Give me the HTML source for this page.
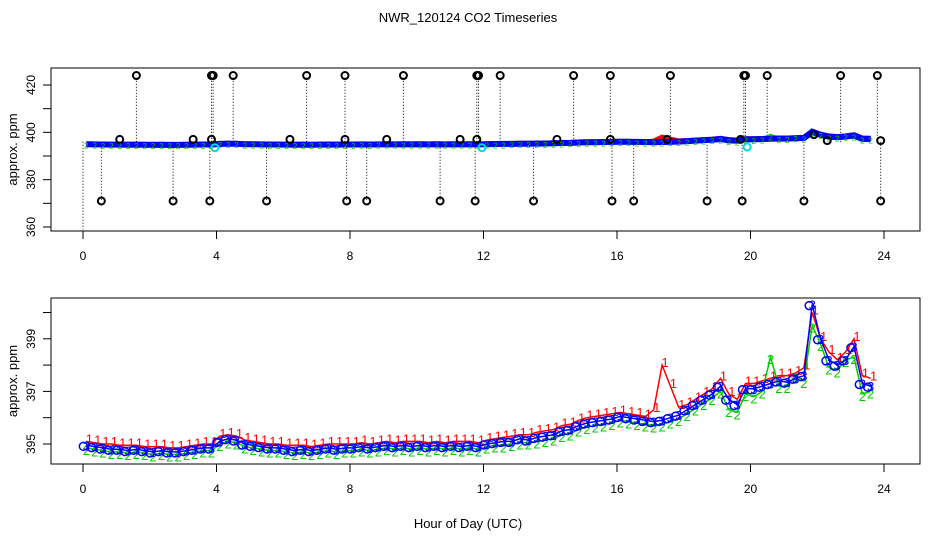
<!DOCTYPE html>
<html><head><meta charset="utf-8"><style>
body{margin:0;background:#fff}
svg{display:block;font-family:"Liberation Sans",sans-serif}
</style></head><body>
<svg id="chart" width="936" height="540" viewBox="0 0 936 540" xmlns="http://www.w3.org/2000/svg">
<rect width="936" height="540" fill="#fff"/>
<text x="468" y="22" font-size="13" text-anchor="middle">NWR_120124  CO2 Timeseries</text>
<text x="468" y="528" font-size="13" text-anchor="middle">Hour of Day (UTC)</text>
<g id="topPanel"></g>
<g id="botPanel"></g>
</svg>
<script>
const hours=[0.1,0.35,0.6,0.85,1.1,1.35,1.6,1.85,2.1,2.35,2.6,2.85,3.1,3.35,3.6,3.85,
4.1,4.35,4.6,4.85,5.1,5.35,5.6,5.85,6.1,6.35,6.6,6.85,7.1,7.35,7.6,7.85,
8.1,8.35,8.6,8.85,9.1,9.35,9.6,9.85,10.1,10.35,10.6,10.85,11.1,11.35,11.6,11.85,
12.1,12.35,12.6,12.85,13.1,13.35,13.6,13.85,14.1,14.35,14.6,14.85,15.1,15.35,15.6,15.85,
16.1,16.35,16.6,16.85,17.1,17.35,17.6,17.85,18.1,18.35,18.6,18.85,19.1,19.35,19.6,19.85,
20.1,20.35,20.6,20.85,21.1,21.35,21.6,21.85,22.1,22.35,22.6,22.85,23.1,23.35,23.6];
const series1=[395.1,395.05,395.0,395.0,394.95,394.95,394.95,394.9,394.9,394.9,394.85,394.85,394.9,394.95,395.0,395.0,
395.3,395.35,395.3,395.15,395.1,395.05,395.0,395.0,394.95,394.95,394.95,394.9,394.95,395.0,395.0,395.0,
395.0,395.05,395.0,395.05,395.1,395.05,395.1,395.1,395.1,395.05,395.1,395.05,395.1,395.1,395.1,395.05,
395.15,395.2,395.25,395.3,395.35,395.35,395.45,395.5,395.55,395.7,395.75,395.9,396.0,396.05,396.1,396.15,
396.2,396.15,396.1,396.05,396.3,398.0,397.2,396.4,396.5,396.7,396.9,397.1,397.5,396.9,396.7,397.3,
397.3,397.4,397.5,397.6,397.6,397.7,397.9,400.0,399.0,398.5,398.2,398.5,399.0,397.6,397.5];
const series2=[394.85,394.8,394.75,394.7,394.7,394.65,394.7,394.65,394.6,394.65,394.6,394.6,394.65,394.7,394.75,394.75,
395.0,395.1,395.05,394.9,394.85,394.8,394.75,394.75,394.7,394.65,394.7,394.65,394.7,394.75,394.7,394.75,
394.75,394.8,394.75,394.8,394.85,394.8,394.85,394.8,394.85,394.8,394.85,394.8,394.85,394.8,394.85,394.8,
394.9,394.95,394.95,395.0,395.05,395.05,395.1,395.15,395.2,395.35,395.4,395.55,395.65,395.7,395.75,395.8,
395.9,395.85,395.8,395.75,395.7,395.75,395.85,395.95,396.15,396.35,396.55,396.75,397.0,396.3,396.2,396.9,
396.8,397.0,398.3,397.2,397.2,397.6,397.4,399.5,398.8,397.9,397.8,398.2,398.3,396.9,397.0];
const series3=[394.95,394.9,394.85,394.8,394.8,394.75,394.8,394.75,394.7,394.75,394.7,394.7,394.75,394.8,394.85,394.85,
395.1,395.2,395.15,395.0,394.95,394.9,394.85,394.85,394.8,394.75,394.8,394.75,394.8,394.85,394.8,394.85,
394.85,394.9,394.85,394.9,394.95,394.9,394.95,394.9,394.95,394.9,394.95,394.9,394.95,394.9,394.95,394.9,
395.0,395.05,395.1,395.1,395.2,395.15,395.25,395.3,395.35,395.5,395.55,395.7,395.8,395.85,395.9,395.95,
396.05,396.0,395.95,395.9,395.85,395.9,396.0,396.1,396.3,396.5,396.7,396.9,397.2,396.7,396.5,397.1,
397.1,397.2,397.3,397.4,397.35,397.5,397.6,400.3,399.0,398.2,398.0,398.2,398.7,397.3,397.2];
const highHours=[1.6,3.85,3.9,4.5,6.7,7.85,9.6,11.8,11.85,12.5,14.7,15.8,17.6,19.8,19.85,20.5,22.7,23.8];
const highValues=[424,424,424,424,424,424,424,424,424,424,424,424,424,424,424,424,424,424];
const lowHours=[0.55,2.7,3.8,5.5,7.9,8.5,10.7,11.75,13.5,15.85,16.5,18.7,19.75,21.6,23.9];
const lowValues=[371,371,371,371,371,371,371,371,371,371,371,371,371,371,371];
const midHours=[1.1,3.3,3.85,6.2,7.85,9.1,11.3,11.8,14.2,15.8,17.5,19.7,21.9,22.3,23.9];
const midValues=[397,397,397,397,397,397,397,397,397,397,397,397,399,396.5,396.5];
const cyanHours=[3.95,11.95,19.9];
const cyanValues=[393.5,393.5,393.8];
const xTicks=[0,4,8,12,16,20,24];
const topTicks=[420,410,400,390,380,370,360];
const topLabels=[420,400,380,360];
const botTicks=[400,399,398,397,396,395];
const botLabels=[399,397,395];

const NS='http://www.w3.org/2000/svg';
function mk(parent,tag,attrs){const e=document.createElementNS(NS,tag);for(const k in attrs)e.setAttribute(k,attrs[k]);parent.appendChild(e);return e;}
const X=h=>83+h*33.375;
const Ytop=v=>85+(420-v)*2.3667;
const Ybot=v=>444-(v-395)*26.3;

function frame(g,y0,y1,yfun,ticks,labels,name){
  const r=mk(g,'rect',{x:51,y:y0,width:869,height:y1-y0,fill:'none',stroke:'#000','stroke-width':1});
  
  
  xTicks.forEach(t=>{
    const l=mk(g,'line',{x1:X(t),x2:X(t),y1:y1,y2:y1+8,stroke:'#000'});
    
    
    const tx=mk(g,'text',{x:X(t),y:y1+29,'font-size':12,'text-anchor':'middle'});
    tx.textContent=t;
    
    
  });
  ticks.forEach(t=>{
    const l=mk(g,'line',{x1:43,x2:51,y1:yfun(t),y2:yfun(t),stroke:'#000'});
    
    
  });
  labels.forEach(t=>{
    const y=yfun(t);
    const tx=mk(g,'text',{x:0,y:0,'font-size':12,'text-anchor':'middle',transform:`translate(35,${y}) rotate(-90)`});
    tx.textContent=t;
    
    
  });
  const yt=mk(g,'text',{x:0,y:0,'font-size':13,'text-anchor':'middle',transform:`translate(17,${(y0+y1)/2}) rotate(-90)`});
  yt.textContent='approx. ppm';
  
  
}

function segments(vals,yfun){
  const segs=[];let cur=[];
  hours.forEach((h,i)=>{
    if(i>0&&h-hours[i-1]>0.3){segs.push(cur);cur=[];}
    cur.push(X(h).toFixed(1)+','+yfun(vals[i]).toFixed(1));
  });
  segs.push(cur);return segs;
}

// top panel
const topG=document.getElementById('topPanel');
frame(topG,68,231,Ytop,topTicks,topLabels,'top');
highHours.forEach((h,i)=>{
  const l=mk(topG,'line',{x1:X(h),x2:X(h),y1:Ytop(396),y2:Ytop(highValues[i]),stroke:'#000','stroke-dasharray':'1,2'});
  
  
});
lowHours.forEach((h,i)=>{
  const l=mk(topG,'line',{x1:X(h),x2:X(h),y1:Ytop(396),y2:Ytop(lowValues[i]),stroke:'#000','stroke-dasharray':'1,2'});
  
  
});
const l0=mk(topG,'line',{x1:X(0),x2:X(0),y1:Ytop(396),y2:Ytop(359),stroke:'#000','stroke-dasharray':'1,2'});


[[series1,'#f00'],[series2,'#0c0'],[series3,'#00f']].forEach(([s,c])=>{
  segments(s,Ytop).forEach(seg=>{
    const p=mk(topG,'polyline',{points:seg.join(' '),fill:'none',stroke:c,'stroke-width':c==='#00f'?6:5});
    
    
  });
});
hours.forEach((h,i)=>{
  const t=mk(topG,'text',{x:X(h),y:Ytop(series2[i])+4,'font-size':8,fill:'#0c0','text-anchor':'middle'});
  t.textContent='2';
  
  
});
function circles(g,hs,vs,color,name){
  hs.forEach((h,i)=>{
    const c=mk(g,'circle',{cx:X(h),cy:Ytop(vs[i]),r:3.5,fill:'none',stroke:color,'stroke-width':2});
    
    
  });
}
circles(topG,highHours,highValues,'#000','high-outlier');
circles(topG,lowHours,lowValues,'#000','low-outlier');
circles(topG,midHours,midValues,'#000','flagged-point');
circles(topG,cyanHours,cyanValues,'#0dd','cyan-point');

// bottom panel
const botG=document.getElementById('botPanel');
frame(botG,298,464,Ybot,botTicks,botLabels,'bottom');
[[series1,'#f00','1',-3],[series2,'#0c0','2',2],[series3,'#00f','3',0]].forEach(([s,c,lab,dy])=>{
  segments(s,Ybot).forEach(seg=>{
    const p=mk(botG,'polyline',{points:seg.join(' '),fill:'none',stroke:c,'stroke-width':1.5});
    
    
  });
  hours.forEach((h,i)=>{
    const t=mk(botG,'text',{x:X(h)+(lab==='1'?3:0),y:Ybot(s[i])+5+dy,'font-size':13,fill:c,'text-anchor':'middle'});
    t.textContent=lab;
    
    
  });
});
hours.forEach((h,i)=>{
  const c=mk(botG,'circle',{cx:X(h)-3,cy:Ybot(series3[i])+1,r:4,fill:'none',stroke:'#00f','stroke-width':1.5});
  
  
});
</script>
</body></html>
